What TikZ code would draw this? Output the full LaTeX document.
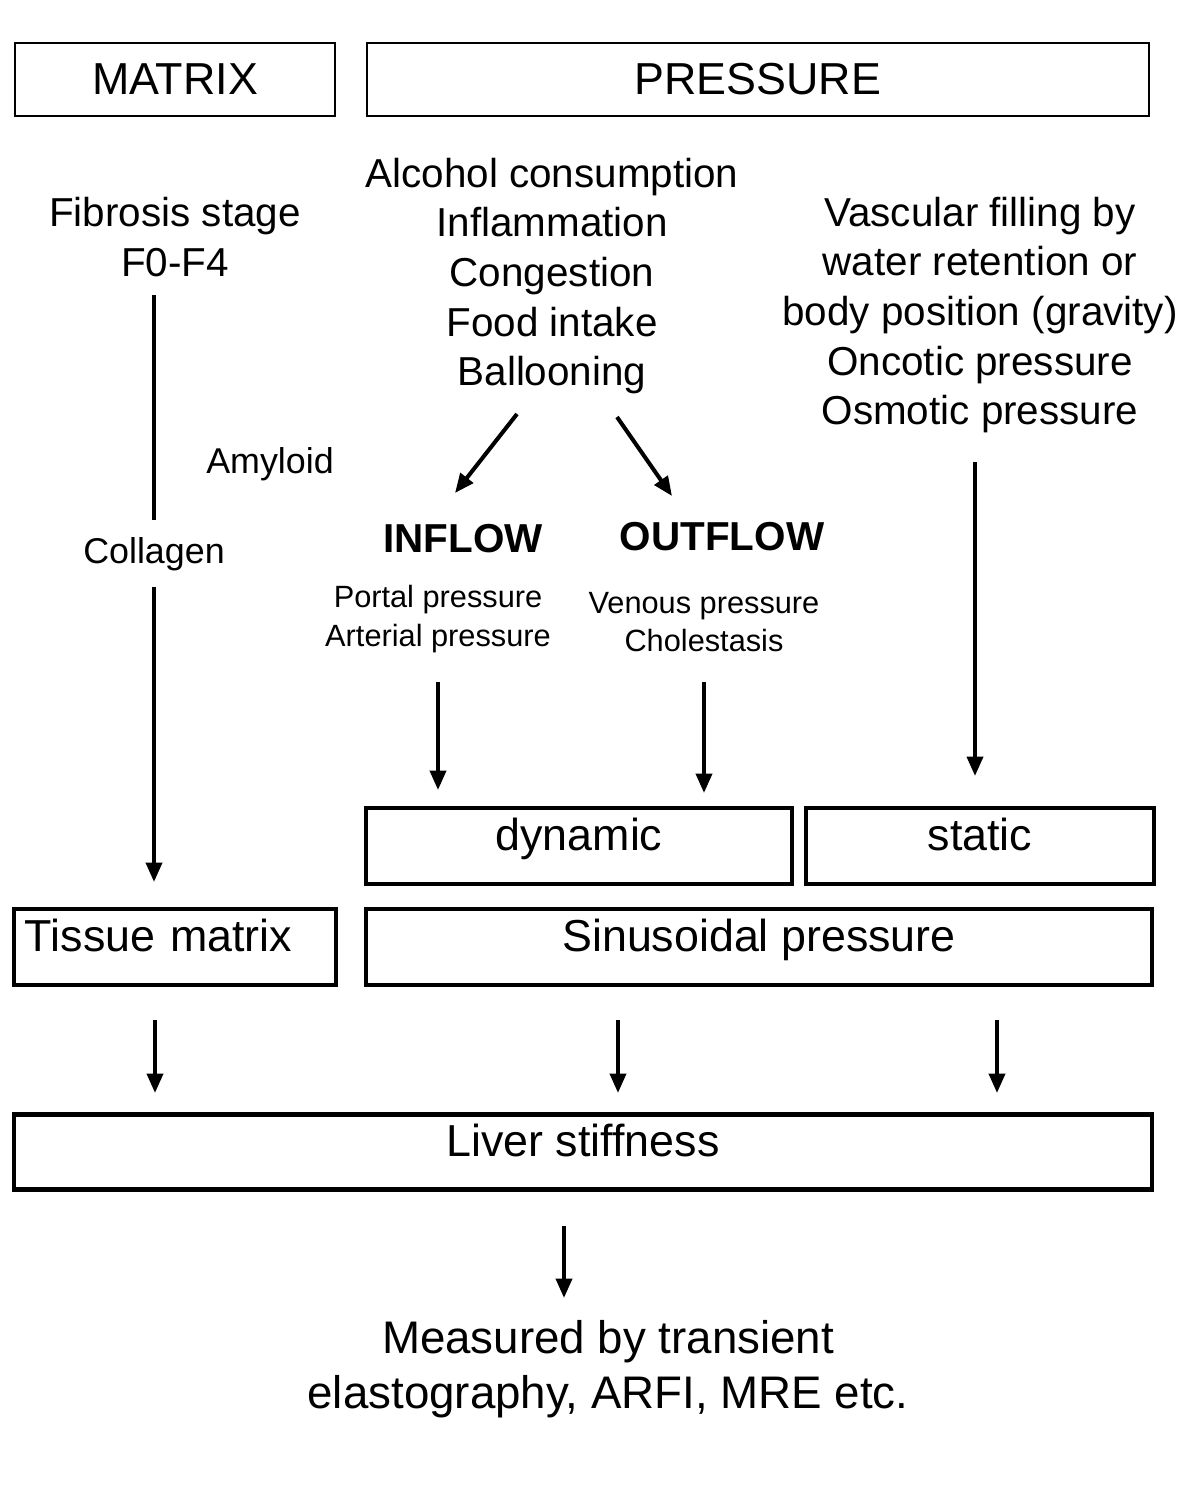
\documentclass[tikz,border=0pt]{standalone}
\usepackage{fontspec}
\setmainfont{Liberation Sans}
\usetikzlibrary{arrows.meta}

\begin{document}
\begin{tikzpicture}[
    x=0.02cm, y=-0.02cm,
    thinbox/.style={draw, line width=0.9pt, inner sep=0pt},
    thickbox/.style={draw, line width=2.4pt, inner sep=0pt, text height=0.72em, text depth=0.21em},
    big/.style={font=\fontsize{25.5}{30}\selectfont},
    body/.style={font=\fontsize{23}{28.3}\selectfont, align=center},
    small/.style={font=\fontsize{17.5}{22}\selectfont, align=center},
    side/.style={font=\fontsize{20.4}{24}\selectfont},
    head/.style={font=\fontsize{23}{28}\selectfont\bfseries},
    arrow/.style={-{Triangle[length=11pt,width=9pt]}, line width=2.3pt}
]
\useasboundingbox (0,0) rectangle (1201,1495);

% Header boxes
\node[thinbox, big, minimum width=320*0.02cm, minimum height=73*0.02cm] (matrix) at (175,79.5) {MATRIX};
\node[thinbox, big, minimum width=782*0.02cm, minimum height=73*0.02cm] (pressure) at (758,79.5) {PRESSURE};

% Matrix column
\node[body] (fibrosis) at (175,237) {Fibrosis stage\\F0-F4};
\node[side] (amyloid) at (270,464) {Amyloid};
\node[side] (collagen) at (154,554) {Collagen};

% Pressure causes
\node[body] (causes) at (552,276) {Alcohol consumption\\Inflammation\\Congestion\\Food intake\\Ballooning};
\node[body] (vascular) at (980,315) {Vascular filling by\\water retention or\\body position (gravity)\\Oncotic pressure\\Osmotic pressure};

\node[head] (inflow) at (463,539) {INFLOW};
\node[head] (outflow) at (722,537) {OUTFLOW};
\node[small] (portal) at (438,619) {Portal pressure\\Arterial pressure};
\node[small] (venous) at (704,622) {Venous pressure\\Cholestasis};

% Result boxes
\node[thickbox, big, minimum width=426*0.02cm, minimum height=76*0.02cm] (dynamic) at (579,846) {dynamic};
\node[thickbox, big, minimum width=348*0.02cm, minimum height=76*0.02cm] (static) at (980,846) {static};
\node[thickbox, big, minimum width=322*0.02cm, minimum height=76*0.02cm, align=left, text width=300*0.02cm] (tissue) at (175,947) {Tissue matrix};
\node[thickbox, big, minimum width=786*0.02cm, minimum height=76*0.02cm] (sinus) at (759,947) {Sinusoidal pressure};
\node[thickbox, big, minimum width=1138*0.02cm, minimum height=75*0.02cm] (liver) at (583,1152) {Liver stiffness};
\node[font=\fontsize{26}{31.2}\selectfont, align=center] (measured) at (608,1369) {Measured by transient\\elastography, ARFI, MRE etc.};

% Arrow end points
\coordinate (f1) at (154,295); \coordinate (f2) at (154,520);
\coordinate (c1) at (154,587); \coordinate (c2) at (154,882);
\coordinate (i1) at (517,414); \coordinate (i2) at (455,493);
\coordinate (o1) at (617,417); \coordinate (o2) at (672,496);
\coordinate (p1) at (438,682); \coordinate (p2) at (438,790);
\coordinate (v1) at (704,682); \coordinate (v2) at (704,793);
\coordinate (s1) at (975,462); \coordinate (s2) at (975,776);
\coordinate (t1) at (155,1020); \coordinate (t2) at (155,1093);
\coordinate (d1) at (618,1020); \coordinate (d2) at (618,1093);
\coordinate (g1) at (997,1020); \coordinate (g2) at (997,1093);
\coordinate (m1) at (564,1226); \coordinate (m2) at (564,1298);

% Arrows
\draw[line width=2.3pt] (f1) -- (f2);
\foreach \source/\dest in {c1/c2, i1/i2, o1/o2, p1/p2, v1/v2, s1/s2, t1/t2, d1/d2, g1/g2, m1/m2} {
    \draw[arrow] (\source) -- (\dest);
}
\end{tikzpicture}
\end{document}
